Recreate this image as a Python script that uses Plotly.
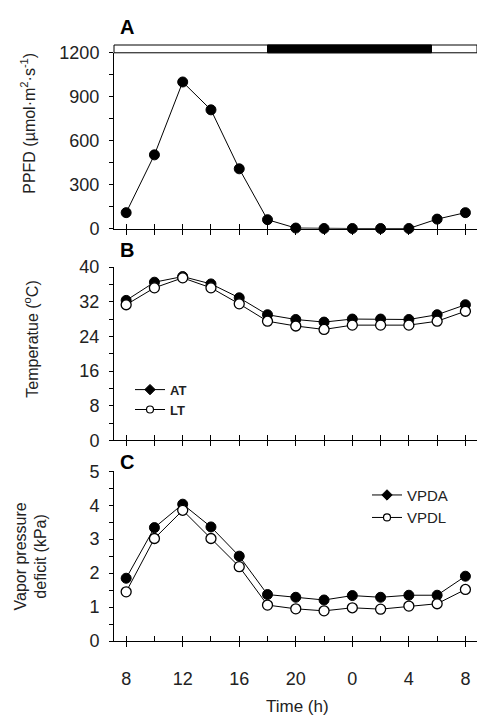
import plotly.graph_objects as go

W, H = 477, 725

# ---- data ----
hours = [8, 10, 12, 14, 16, 18, 20, 22, 24, 26, 28, 30, 32]
ppfd = [110, 504, 1001, 811, 409, 62, 5, 2, 2, 2, 2, 66, 110]
at = [32.3, 36.5, 37.8, 36.1, 32.9, 29.0, 27.9, 27.3, 28.0, 28.0, 27.9, 29.0, 31.3]
lt = [31.3, 35.2, 37.5, 35.2, 31.5, 27.5, 26.4, 25.6, 26.6, 26.6, 26.6, 27.5, 29.8]
vpda = [1.85, 3.34, 4.03, 3.36, 2.50, 1.37, 1.29, 1.21, 1.34, 1.29, 1.35, 1.35, 1.91]
vpdl = [1.45, 3.02, 3.85, 3.02, 2.19, 1.06, 0.95, 0.89, 0.98, 0.94, 1.03, 1.10, 1.52]
xtick_vals = [8, 12, 16, 20, 24, 28, 32]
xtick_text = ["8", "12", "16", "20", "0", "4", "8"]
dark_period = [18, 29.6]

FONT = "Liberation Sans, Arial, sans-serif"
TXT = "#222222"

def py(px):
    return (H - px) / H

def pxx(px):
    return px / W

dom_x = [pxx(114), 1.0]
dom_A = [py(225), py(44)]
dom_B = [py(442.7), py(264.3)]
dom_C = [py(649), py(474.3)]
xrange_ = [7.14, 32.82]

fig = go.Figure()

line = dict(color="black", width=1)
filled = dict(symbol="circle", size=10, color="black", line=dict(color="black", width=1))
opened = dict(symbol="circle", size=10, color="white", line=dict(color="black", width=1.3))
leg_filled = dict(symbol="diamond", size=8, color="black", line=dict(color="black", width=1))
leg_opened = dict(symbol="circle", size=7, color="white", line=dict(color="black", width=1.2))

fig.add_trace(go.Scatter(x=hours, y=ppfd, mode="lines+markers", line=line, marker=filled,
                         xaxis="x", yaxis="y", showlegend=False, cliponaxis=False))
fig.add_trace(go.Scatter(x=hours, y=at, mode="lines+markers", line=line, marker=filled,
                         xaxis="x2", yaxis="y2", name="AT", showlegend=False, cliponaxis=False))
fig.add_trace(go.Scatter(x=hours, y=lt, mode="lines+markers", line=line, marker=opened,
                         xaxis="x2", yaxis="y2", name="LT", showlegend=False, cliponaxis=False))
fig.add_trace(go.Scatter(x=hours, y=vpda, mode="lines+markers", line=line, marker=filled,
                         xaxis="x3", yaxis="y3", name="VPDA", showlegend=False, cliponaxis=False))
fig.add_trace(go.Scatter(x=hours, y=vpdl, mode="lines+markers", line=line, marker=opened,
                         xaxis="x3", yaxis="y3", name="VPDL", showlegend=False, cliponaxis=False))

# legend swatches (no data)
for name, mk, lg, ax in [("<b>AT</b>", leg_filled, "legend", ("x2", "y2")),
                         ("<b>LT</b>", leg_opened, "legend", ("x2", "y2")),
                         ("VPDA", leg_filled, "legend2", ("x3", "y3")),
                         ("VPDL", leg_opened, "legend2", ("x3", "y3"))]:
    fig.add_trace(go.Scatter(x=[None], y=[None], mode="lines+markers", line=line, marker=mk,
                             name=name, legend=lg, showlegend=True, xaxis=ax[0], yaxis=ax[1]))

minor_x = [h + 1 for h in range(7, 33, 2)]
major_x = list(range(8, 33, 2))
unlabeled_x = [v for v in major_x if v not in xtick_vals]

def xaxis(dom_y_anchor, labels):
    d = dict(domain=dom_x, range=xrange_, showline=True, linecolor="black", linewidth=1,
             showgrid=False, zeroline=False, ticks="outside", ticklen=5, tickwidth=1,
             tickcolor="black", tickmode="array",
             minor=dict(tickvals=minor_x, ticks="inside", ticklen=5, tickwidth=1,
                        tickcolor="black", showgrid=False),
             tickfont=dict(family=FONT, size=18, color=TXT), anchor=dom_y_anchor)
    if labels:
        d["tickvals"] = xtick_vals
        d["ticktext"] = xtick_text
        d["ticklabelstandoff"] = 16
    else:
        d["tickvals"] = major_x
        d["showticklabels"] = False
    return d

def yaxis(dom, rng, dtick, anchor):
    return dict(domain=dom, range=rng, dtick=dtick, tick0=0, showline=True, linecolor="black",
                linewidth=1, showgrid=False, zeroline=False, ticks="outside", ticklen=4,
                tickwidth=1, tickcolor="black",
                minor=dict(dtick=dtick / 2, tick0=0, ticks="outside", ticklen=4, tickwidth=1,
                           tickcolor="black", showgrid=False),
                tickfont=dict(family=FONT, size=18, color=TXT), ticklabelstandoff=6,
                anchor=anchor)

fig.update_layout(
    width=W, height=H, margin=dict(l=0, r=0, t=0, b=0),
    paper_bgcolor="white", plot_bgcolor="white",
    xaxis=xaxis("y", False), yaxis=yaxis(dom_A, [0, 1200], 300, "x"),
    xaxis2=xaxis("y2", False), yaxis2=yaxis(dom_B, [0, 40], 8, "x2"),
    xaxis3=xaxis("y3", True), yaxis3=yaxis(dom_C, [0, 5], 1, "x3"),
    # extra unlabeled outside ticks on the bottom axis
    xaxis4=dict(overlaying="x3", anchor="y3", range=xrange_, showline=False, showgrid=False,
                zeroline=False, ticks="outside", ticklen=5, tickwidth=1, tickcolor="black",
                tickmode="array", tickvals=unlabeled_x, showticklabels=False),
    legend=dict(x=pxx(130), y=py(375), xanchor="left", yanchor="top",
                font=dict(family=FONT, size=13, color=TXT), bgcolor="rgba(0,0,0,0)",
                tracegroupgap=0, itemwidth=30),
    legend2=dict(x=pxx(367), y=py(482), xanchor="left", yanchor="top",
                 font=dict(family=FONT, size=15, color=TXT), bgcolor="rgba(0,0,0,0)",
                 tracegroupgap=0, itemwidth=30),
)

# light/dark bar above panel A
fig.add_shape(type="rect", xref="paper", yref="paper", x0=pxx(114), x1=1.0,
              y0=py(44), y1=py(36), fillcolor="white", line=dict(color="black", width=1))
fig.add_shape(type="rect", xref="x", yref="paper", x0=dark_period[0], x1=dark_period[1],
              y0=py(44), y1=py(36), fillcolor="black", line=dict(color="black", width=1))

ann = []
for lbl, yy in [("A", 17), ("B", 247), ("C", 465)]:
    ann.append(dict(text="<b>%s</b>" % lbl, x=pxx(118), y=py(yy), xref="paper", yref="paper",
                    xanchor="left", yanchor="middle", showarrow=False,
                    font=dict(family=FONT, size=20, color="black")))
ann.append(dict(text="PPFD (µmol·m<sup>2</sup>·s<sup>-1</sup>)", x=pxx(28), y=py(117),
                xref="paper", yref="paper", textangle=-90, showarrow=False,
                xanchor="center", yanchor="middle",
                font=dict(family=FONT, size=16, color=TXT)))
ann.append(dict(text="Temperatue (<sup>o</sup>C)", x=pxx(31), y=py(338),
                xref="paper", yref="paper", textangle=-90, showarrow=False,
                xanchor="center", yanchor="middle",
                font=dict(family=FONT, size=16, color=TXT)))
ann.append(dict(text="Vapor pressure<br>deficit (kPa)", x=pxx(31), y=py(562),
                xref="paper", yref="paper", textangle=-90, showarrow=False,
                xanchor="center", yanchor="middle",
                font=dict(family=FONT, size=16, color=TXT)))
ann.append(dict(text="Time (h)", x=pxx(297), y=py(716), xref="paper", yref="paper",
                xanchor="center", yanchor="middle",
                showarrow=False, font=dict(family=FONT, size=17, color=TXT)))
fig.update_layout(annotations=ann)

fig.write_html("out.html")
